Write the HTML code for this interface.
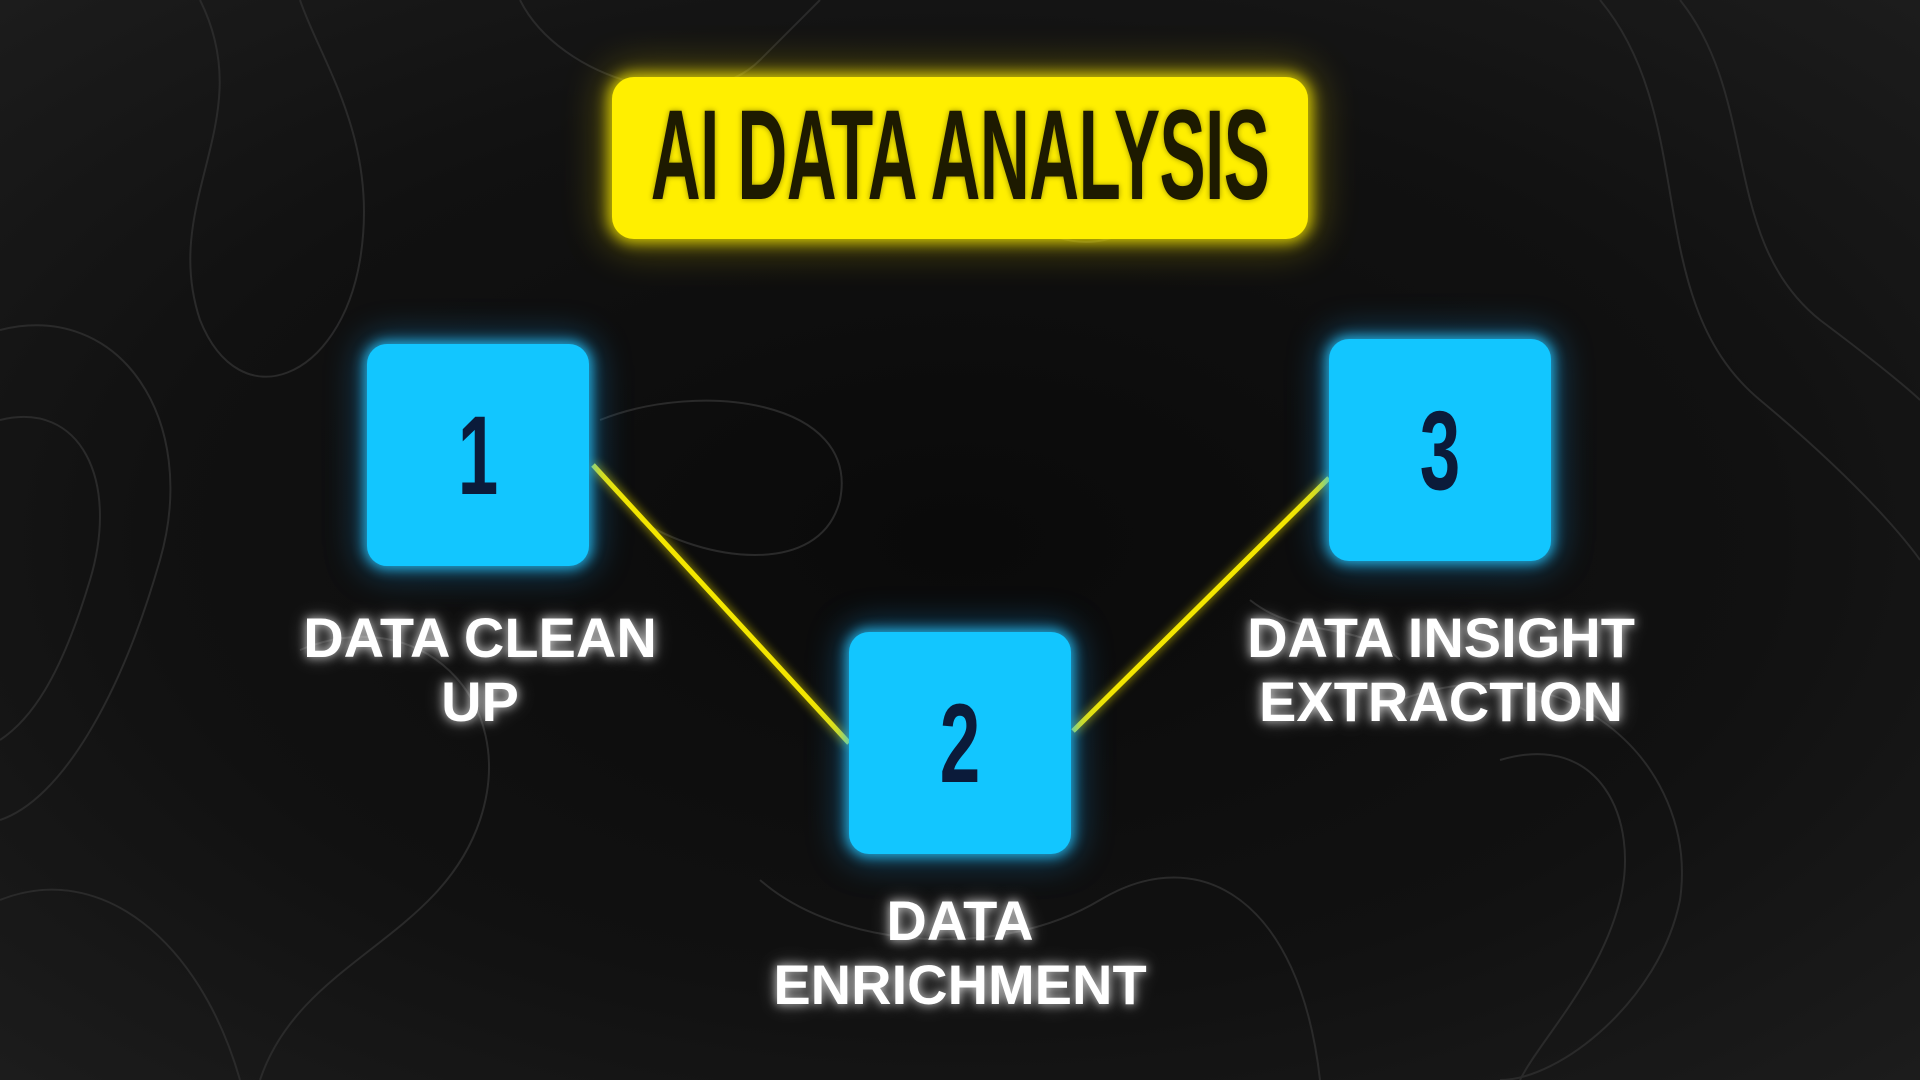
<!DOCTYPE html>
<html><head><meta charset="utf-8"><style>
html,body{margin:0;padding:0;width:1920px;height:1080px;overflow:hidden;background:#070707;}
body{position:relative;font-family:"Liberation Sans",sans-serif;
background:radial-gradient(ellipse at 50% 50%,#0a0a0a 0%,#111 60%,#1c1c1c 100%);}
.title{position:absolute;left:612px;top:77px;width:696px;height:162px;background:#ffef00;border-radius:22px;
box-shadow:0 0 14px 4px rgba(255,240,0,.75),0 0 40px 10px rgba(255,230,0,.3);}
.title span{position:absolute;left:-300px;right:-300px;top:14px;text-align:center;white-space:nowrap;font-family:"Liberation Sans Narrow","Liberation Sans",sans-serif;font-weight:bold;font-size:128px;line-height:130px;color:#1d1a00;transform:scaleX(.54);letter-spacing:-1px;text-shadow:0 0 8px rgba(0,0,0,.4);}
.box{position:absolute;width:222px;height:222px;background:#12c6ff;border-radius:20px;
box-shadow:0 0 12px 3px rgba(40,200,255,.8),0 0 34px 8px rgba(30,170,255,.35);}
.box span{position:absolute;left:0;right:0;top:42px;text-align:center;font-family:"Liberation Sans Narrow","Liberation Sans",sans-serif;font-weight:bold;font-size:112px;line-height:140px;color:#0b1b3a;transform:scaleX(.65);}
.lbl{position:absolute;width:700px;text-align:center;color:#fff;font-weight:bold;font-size:56px;line-height:64px;white-space:nowrap;
text-shadow:0 0 10px rgba(255,255,255,.8),0 0 20px rgba(255,255,255,.35);}
</style></head><body>
<svg width="1920" height="1080" style="position:absolute;left:0;top:0" fill="none" stroke="#2a2a2a" stroke-width="2">
<path d="M0 330 C120 300 200 420 160 560 C120 700 60 800 0 820"/>
<path d="M0 420 C80 400 120 480 90 580 C60 680 30 720 0 740"/>
<path d="M200 0 C260 120 160 200 200 320 C240 420 340 380 360 260 C380 140 320 60 300 0"/>
<path d="M520 0 C560 80 700 120 760 60 C800 20 820 0 820 0"/>
<path d="M600 420 C700 380 860 400 840 500 C820 580 700 560 640 520"/>
<path d="M1000 200 C1100 300 1200 200 1160 120 C1120 40 1020 80 1000 200"/>
<path d="M1600 0 C1700 120 1640 300 1760 400 C1880 500 1920 560 1920 560"/>
<path d="M1680 0 C1760 100 1720 240 1820 320 C1900 380 1920 400 1920 400"/>
<path d="M1400 700 C1560 640 1700 760 1680 900 C1660 1000 1560 1080 1500 1080"/>
<path d="M1500 760 C1600 730 1640 820 1620 900 C1600 980 1540 1040 1520 1080"/>
<path d="M300 650 C420 600 520 700 480 820 C440 940 300 960 260 1080"/>
<path d="M0 900 C100 860 200 940 240 1080"/>
<path d="M760 880 C840 950 1000 960 1100 900 C1200 840 1300 900 1320 1080"/>
<path d="M1250 600 C1300 640 1360 620 1400 660"/>
</svg>
<svg width="1920" height="1080" style="position:absolute;left:0;top:0">
<g stroke="#f3e600" stroke-width="5" style="filter:drop-shadow(0 0 5px rgba(255,240,0,.8))">
<line x1="593" y1="465" x2="849" y2="743"/>
<line x1="1073" y1="731" x2="1329" y2="478"/>
</g></svg>
<div class="title"><span>AI DATA ANALYSIS</span></div>
<div class="box" style="left:367px;top:344px"><span>1</span></div>
<div class="box" style="left:849px;top:632px"><span>2</span></div>
<div class="box" style="left:1329px;top:339px"><span>3</span></div>
<div class="lbl" style="left:130px;top:606px">DATA CLEAN<br>UP</div>
<div class="lbl" style="left:1091px;top:606px">DATA INSIGHT<br>EXTRACTION</div>
<div class="lbl" style="left:610px;top:889px">DATA<br>ENRICHMENT</div>
</body></html>
